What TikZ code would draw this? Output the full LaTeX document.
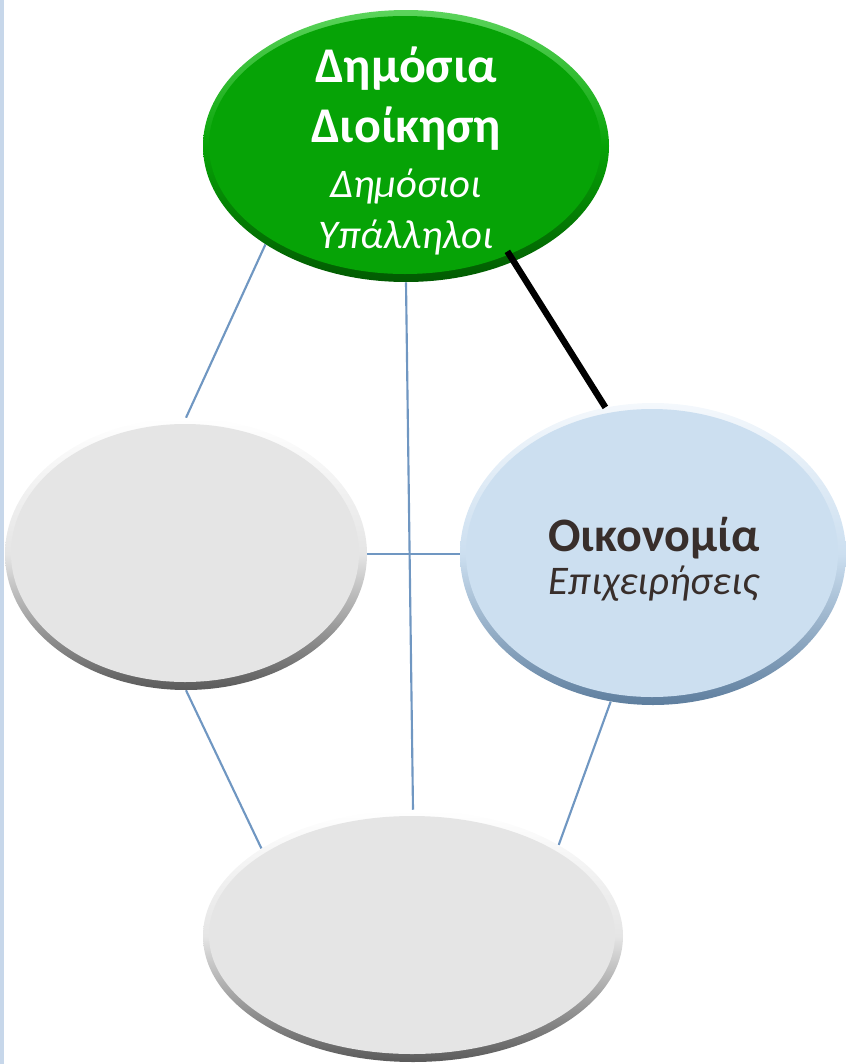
\documentclass[tikz,border=0pt]{standalone}
\usepackage{fontspec}
\setmainfont{Carlito}
\usetikzlibrary{shapes.geometric,backgrounds}
\definecolor{govgreen}{HTML}{06A306}
\definecolor{govrimtop}{HTML}{5CD45C}
\definecolor{govrimbot}{HTML}{025A02}
\definecolor{econblue}{HTML}{CCDFF0}
\definecolor{econrimtop}{HTML}{F4F8FC}
\definecolor{econrimbot}{HTML}{5E7E9E}
\definecolor{emptygray}{HTML}{E5E5E5}
\definecolor{grayrimtop}{HTML}{FFFFFF}
\definecolor{grayrimbot}{HTML}{5A5A5A}
\definecolor{linkblue}{HTML}{7097C2}
\definecolor{stripblue}{HTML}{C7D7EA}
\definecolor{darktext}{HTML}{382E2B}
\newcommand{\subtitle}{\fontsize{30.5}{36}\selectfont\mdseries\itshape}
\begin{document}
\begin{tikzpicture}[x=0.75pt,y=-0.75pt,
  rim/.style 2 args={ellipse,draw=none,inner sep=0pt,minimum width=#1*0.75pt,minimum height=#2*0.75pt},
  face/.style 2 args={ellipse,draw=none,inner sep=0pt,minimum width=#1*0.75pt,minimum height=#2*0.75pt},
  label/.style={align=center,inner sep=0pt},
  link/.style={draw=linkblue,line width=1.6pt}]
% \draw[help lines] (0,0) grid[step=100] (846,1064);
\useasboundingbox (0,0) rectangle (846,1064);
\fill[stripblue] (0,0) rectangle (4,1064);
%
\node (gov) [rim={406}{272},top color=govrimtop,bottom color=govrimbot,middle color=govgreen] at (406,146) {};
\node (govf) [face={392}{258},fill=govgreen] at (405,145) {};
\node (govt) [label,text=white,font=\fontsize{37.5}{45}\selectfont\bfseries] at (406,151)
  {Δημόσια\\Διοίκηση\\[-4pt]
   \subtitle Δημόσιοι\\[-7pt]\subtitle Υπάλληλοι};
\node (left) [rim={362}{272},top color=grayrimtop,bottom color=grayrimbot,middle color=emptygray] at (186,554) {};
\node (leftf) [face={348}{258},fill=emptygray] at (185,553) {};
\node (econ) [rim={386}{302},top color=econrimtop,bottom color=econrimbot,middle color=econblue] at (653,554) {};
\node (econf) [face={372}{288},fill=econblue] at (652,553) {};
\node (econt) [label,text=darktext,font=\fontsize{36}{36}\selectfont\bfseries] at (654,559)
  {Οικονομία\\[-4pt]\subtitle Επιχειρήσεις};
\node (bot) [rim={420}{252},top color=grayrimtop,bottom color=grayrimbot,middle color=emptygray] at (413,936) {};
\node (botf) [face={406}{238},fill=emptygray] at (412,935) {};
%
\begin{scope}[on background layer]
\path[link] (gov.-145) -- (left.north);
\path[link] (gov.south) -- (bot.north);
\path[link] (left.east) -- (econ.west);
\path[link] (left.south) -- (bot.150);
\path[link] (econ.-106) -- (bot.32);
\end{scope}
\path[draw=black,line width=4.8pt,shorten <=-9pt] (gov.-47) -- (econ.108.5);
\end{tikzpicture}
\end{document}
